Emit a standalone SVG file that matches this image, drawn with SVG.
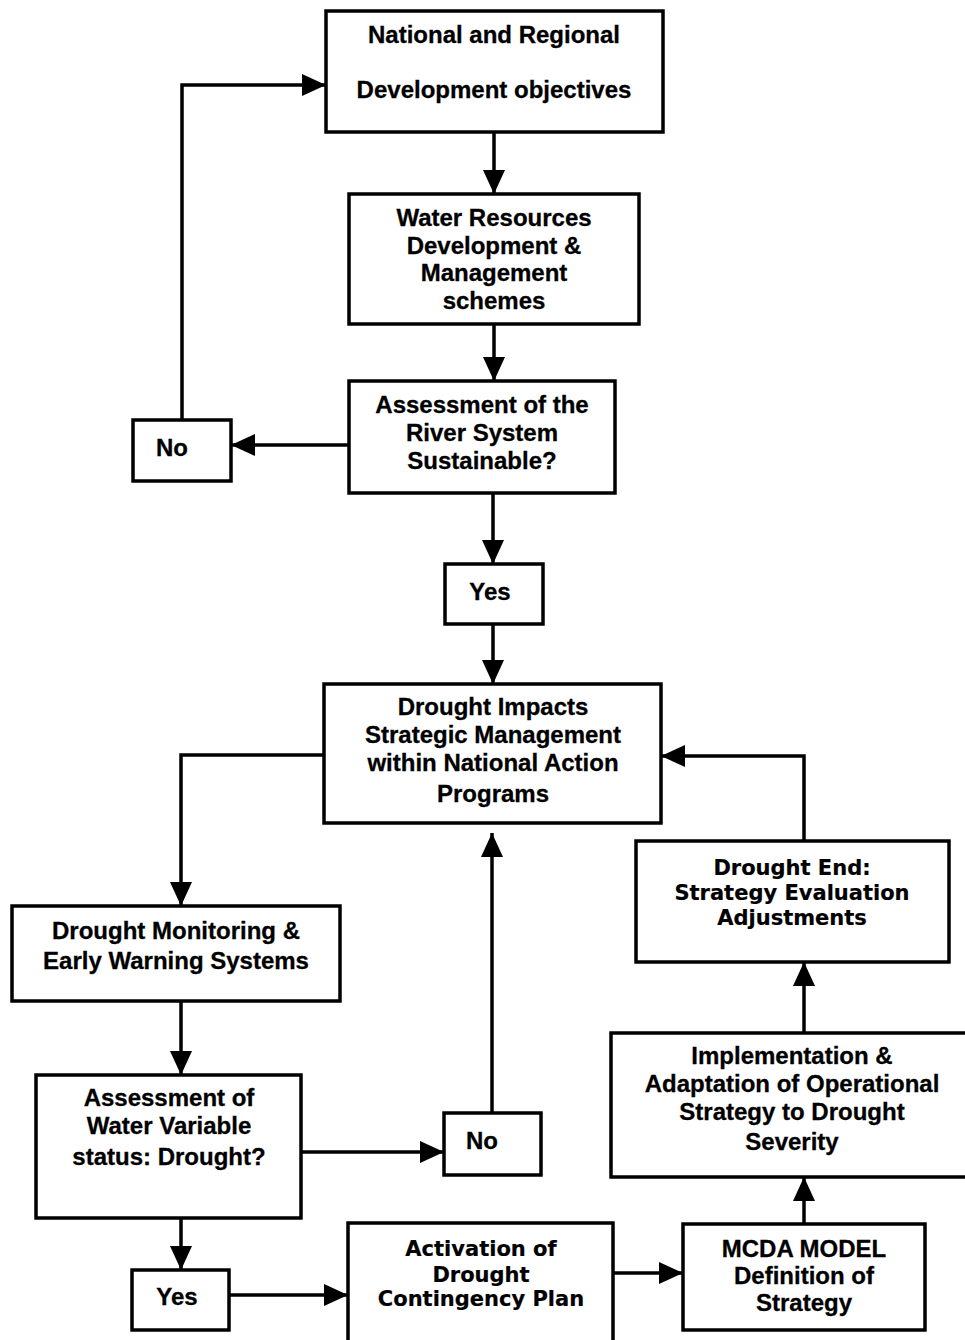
<svg xmlns="http://www.w3.org/2000/svg" width="965" height="1340" viewBox="0 0 965 1340">
<style>
.box{fill:#fff;stroke:#000;stroke-width:3.5}
.t{font-family:"Liberation Sans",Arial,sans-serif;font-weight:bold;font-size:24px;text-anchor:middle;fill:#000;stroke:#000;stroke-width:0.3}
.v{font-family:"DejaVu Sans",Verdana,sans-serif;font-weight:bold;font-size:21px;text-anchor:middle;fill:#000;stroke:#000;stroke-width:0.2}
.c{fill:none;stroke:#000;stroke-width:3.5}
</style>
<defs>
<marker id="ah" markerUnits="userSpaceOnUse" markerWidth="26" markerHeight="24" refX="24" refY="11" orient="auto">
<path d="M0,0 L24,11 L0,22 z" fill="#000"/>
</marker>
</defs>
<g id="connectors">
<path class="c" d="M494,132 V194" marker-end="url(#ah)"/>
<path class="c" d="M494,324 V381" marker-end="url(#ah)"/>
<path class="c" d="M349,445 H231" marker-end="url(#ah)"/>
<path class="c" d="M182,420 V85 H326" marker-end="url(#ah)"/>
<path class="c" d="M493,493 V564" marker-end="url(#ah)"/>
<path class="c" d="M493,624 V684" marker-end="url(#ah)"/>
<path class="c" d="M324,755 H181 V906" marker-end="url(#ah)"/>
<path class="c" d="M181,1001 V1075" marker-end="url(#ah)"/>
<path class="c" d="M301,1152 H444" marker-end="url(#ah)"/>
<path class="c" d="M492,1113 V833" marker-end="url(#ah)"/>
<path class="c" d="M181,1218 V1270" marker-end="url(#ah)"/>
<path class="c" d="M229,1295 H348" marker-end="url(#ah)"/>
<path class="c" d="M613,1273 H683" marker-end="url(#ah)"/>
<path class="c" d="M804,1224 V1177" marker-end="url(#ah)"/>
<path class="c" d="M804,1033 V962" marker-end="url(#ah)"/>
<path class="c" d="M804,841 V756 H661" marker-end="url(#ah)"/>
</g>
<g id="n1"><rect class="box" x="326" y="11" width="337" height="121"/>
<text class="t" x="494" y="43">National and Regional</text>
<text class="t" x="494" y="98">Development objectives</text></g>
<g id="n2"><rect class="box" x="349" y="194" width="290" height="130"/>
<text class="t" x="494" y="226">Water Resources</text>
<text class="t" x="494" y="254">Development &amp;</text>
<text class="t" x="494" y="281">Management</text>
<text class="t" x="494" y="309">schemes</text></g>
<g id="n3"><rect class="box" x="349" y="381" width="266" height="112"/>
<text class="t" x="482" y="413">Assessment of the</text>
<text class="t" x="482" y="441">River System</text>
<text class="t" x="482" y="469">Sustainable?</text></g>
<g id="no1"><rect class="box" x="133" y="420" width="98" height="61"/>
<text class="t" x="172" y="456">No</text></g>
<g id="yes1"><rect class="box" x="445" y="564" width="98" height="60"/>
<text class="t" x="490" y="600">Yes</text></g>
<g id="n4"><rect class="box" x="324" y="684" width="337" height="139"/>
<text class="t" x="493" y="715">Drought Impacts</text>
<text class="t" x="493" y="743">Strategic Management</text>
<text class="t" x="493" y="771">within National Action</text>
<text class="t" x="493" y="802">Programs</text></g>
<g id="n5"><rect class="box" x="12" y="906" width="328" height="95"/>
<text class="t" x="176" y="939">Drought Monitoring &amp;</text>
<text class="t" x="176" y="969">Early Warning Systems</text></g>
<g id="n6"><rect class="box" x="36" y="1075" width="265" height="143"/>
<text class="t" x="169" y="1106">Assessment of</text>
<text class="t" x="169" y="1134">Water Variable</text>
<text class="t" x="169" y="1165">status: Drought?</text></g>
<g id="no2"><rect class="box" x="444" y="1113" width="97" height="62"/>
<text class="t" x="482" y="1149">No</text></g>
<g id="yes2"><rect class="box" x="132" y="1270" width="97" height="60"/>
<text class="t" x="177" y="1305">Yes</text></g>
<g id="n7"><rect class="box" x="348" y="1223" width="265" height="130"/>
<text class="v" x="481" y="1256">Activation of</text>
<text class="v" x="481" y="1282">Drought</text>
<text class="v" x="481" y="1306">Contingency Plan</text></g>
<g id="n8"><rect class="box" x="683" y="1224" width="242" height="106"/>
<text class="t" x="804" y="1257">MCDA MODEL</text>
<text class="t" x="804" y="1284">Definition of</text>
<text class="t" x="804" y="1311">Strategy</text></g>
<g id="n9"><rect class="box" x="611" y="1033" width="370" height="144"/>
<text class="t" x="792" y="1064">Implementation &amp;</text>
<text class="t" x="792" y="1092">Adaptation of Operational</text>
<text class="t" x="792" y="1120">Strategy to Drought</text>
<text class="t" x="792" y="1150">Severity</text></g>
<g id="n10"><rect class="box" x="636" y="841" width="313" height="121"/>
<text class="v" x="792" y="875">Drought End:</text>
<text class="v" x="792" y="900">Strategy Evaluation</text>
<text class="v" x="792" y="925">Adjustments</text></g>
</svg>
